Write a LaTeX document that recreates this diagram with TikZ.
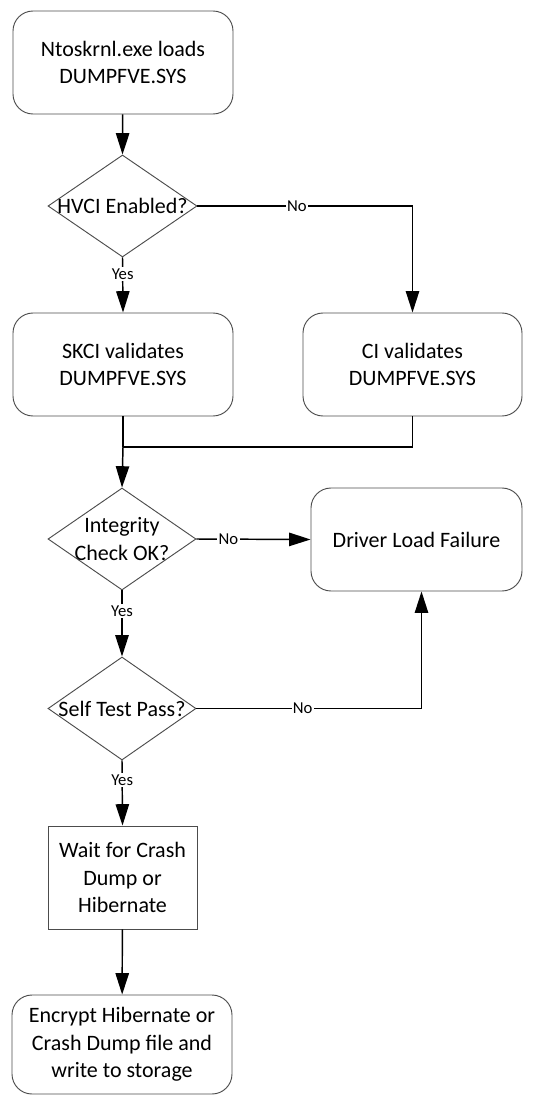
\documentclass[tikz,border=0pt]{standalone}
\usepackage{fontspec}
\setmainfont{Carlito}
\usetikzlibrary{shapes.geometric,arrows.meta,calc}
\begin{document}
\begin{tikzpicture}[x=0.75pt,y=-0.75pt,
  every node/.style={font=\fontsize{16.5}{20.5}\selectfont},
  rbox/.style={draw=black!70, line width=0.7pt, rounded corners=15pt, align=center, inner sep=2pt},
  sbox/.style={draw=black!70, line width=0.7pt, align=center, inner sep=2pt},
  dshape/.style={draw=black!70, line width=0.7pt, diamond, inner sep=0pt},
  dtext/.style={align=center, inner sep=0pt},
  conn/.style={draw=black, line width=1.1pt, -{Triangle[length=16pt,width=10pt]}},
  plain/.style={draw=black, line width=1.1pt},
  lbl/.style={fill=white, inner sep=1pt, font=\fontsize{12.5}{14}\selectfont}
]
\useasboundingbox (0,0) rectangle (535,1095);
\node[rbox, minimum width=220*0.75pt, minimum height=103*0.75pt] (n1) at (123,62.5) {Ntoskrnl.exe loads\\DUMPFVE.SYS};
\node[dshape, minimum width=149*0.75pt, minimum height=102*0.75pt] (d1) at (122.5,206) {};
\node[dtext] (t1) at (d1.center) {HVCI Enabled?};
\node[rbox, minimum width=220*0.75pt, minimum height=103*0.75pt] (skci) at (123,364.5) {SKCI validates\\DUMPFVE.SYS};
\node[rbox, minimum width=219*0.75pt, minimum height=103*0.75pt] (ci) at (412.5,364.5) {CI validates\\DUMPFVE.SYS};
\coordinate (m) at (123,447);
\node[dshape, minimum width=148*0.75pt, minimum height=102*0.75pt] (d2) at (122,539) {};
\node[dtext] (t2) at (d2.center) {Integrity\\Check OK?};
\node[rbox, minimum width=211*0.75pt, minimum height=103*0.75pt] (fail) at (416.5,539.5) {Driver Load Failure};
\node[dshape, minimum width=148*0.75pt, minimum height=103*0.75pt] (d3) at (122,708.5) {};
\node[dtext] (t3) at (d3.center) {Self Test Pass?};
\node[sbox, minimum width=149*0.75pt, minimum height=103*0.75pt] (wait) at (122.5,877.5) {Wait for Crash\\Dump or\\Hibernate};
\node[rbox, minimum width=220*0.75pt, minimum height=99*0.75pt] (enc) at (122,1044.5) {Encrypt Hibernate or\\Crash Dump file and\\write to storage};

\draw[conn] (n1) -- (d1.north);
\draw[conn] (d1.east) -| node[lbl, pos=0.231] {No} (ci.north);
\draw[conn] (d1.south) -- node[lbl, pos=0.30] {Yes} (skci.north);
\draw[plain] (skci.south) -- (m);
\draw[plain] (ci.south) |- (m);
\draw[conn] (m) -- (d2.north);
\draw[conn] (d2.east) -- node[lbl, pos=0.28] {No} (fail.west);
\draw[conn] (d2.south) -- node[lbl, pos=0.31] {Yes} (d3.north);
\draw[conn] (d3.east) -| node[lbl, pos=0.236] {No} ([xshift=3.75pt]fail.south);
\draw[conn] (d3.south) -- node[lbl, pos=0.30] {Yes} (wait.north);
\draw[conn] (wait) -- (enc);
\end{tikzpicture}
\end{document}
